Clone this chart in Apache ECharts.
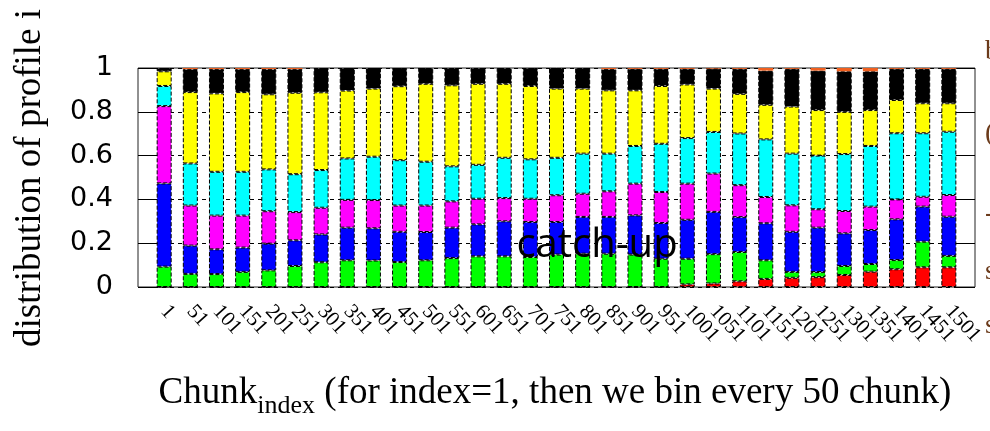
<!DOCTYPE html>
<html>
<head>
<meta charset="utf-8">
<script src="https://cdn.jsdelivr.net/npm/echarts@6/dist/echarts.min.js"></script>
<style>
  html, body { margin: 0; padding: 0; background: #fff; }
  #chart { width: 990px; height: 431px; }
</style>
</head>
<body>
<div id="chart"></div>
<script>
// ---- data (fractions of each profile per bin, stacked bottom -> top) ----
const categories = ['1','51','101','151','201','251','301','351','401','451','501','551','601','651','701','751','801','851','901','951','1001','1051','1101','1151','1201','1251','1301','1351','1401','1451','1501'];

const red     = [0,0,0,0,0,0,0,0,0,0,0,0,0,0,0,0,0,0,0,0,0.012,0.016,0.026,0.037,0.042,0.045,0.055,0.070,0.081,0.090,0.090];
const green   = [0.093,0.060,0.059,0.069,0.076,0.096,0.113,0.122,0.121,0.114,0.122,0.132,0.140,0.140,0.137,0.148,0.152,0.152,0.148,0.129,0.117,0.134,0.134,0.085,0.027,0.023,0.041,0.035,0.042,0.117,0.052];
const blue    = [0.380,0.129,0.113,0.111,0.122,0.117,0.127,0.149,0.147,0.138,0.129,0.139,0.146,0.160,0.160,0.149,0.168,0.168,0.179,0.163,0.178,0.193,0.159,0.169,0.183,0.203,0.149,0.155,0.186,0.160,0.179];
const magenta = [0.353,0.183,0.154,0.146,0.148,0.129,0.122,0.127,0.129,0.120,0.121,0.120,0.117,0.106,0.106,0.122,0.106,0.117,0.145,0.142,0.165,0.175,0.146,0.120,0.121,0.084,0.102,0.107,0.091,0.045,0.099];
const cyan    = [0.092,0.192,0.200,0.200,0.191,0.173,0.172,0.189,0.198,0.207,0.200,0.160,0.155,0.184,0.180,0.171,0.183,0.172,0.172,0.220,0.208,0.190,0.236,0.263,0.236,0.245,0.260,0.277,0.302,0.290,0.289];
const yellow  = [0.067,0.326,0.358,0.364,0.343,0.372,0.355,0.310,0.311,0.338,0.356,0.370,0.370,0.338,0.335,0.316,0.297,0.289,0.254,0.264,0.245,0.198,0.181,0.158,0.215,0.208,0.193,0.164,0.152,0.137,0.130];
const black   = [0.015,0.105,0.111,0.105,0.115,0.108,0.111,0.103,0.094,0.083,0.072,0.079,0.072,0.072,0.082,0.094,0.094,0.097,0.098,0.078,0.071,0.091,0.114,0.156,0.172,0.180,0.185,0.177,0.142,0.157,0.157];
const orange  = [0,0.005,0.005,0.005,0.005,0.005,0,0,0,0,0,0,0,0,0,0,0,0.005,0.004,0.004,0.004,0.004,0.004,0.012,0.004,0.012,0.015,0.015,0.004,0.004,0.004];

const yTicks = [0, 0.2, 0.4, 0.6, 0.8, 1];

const seriesDefs = [
  { name: 'red', data: red, color: '#ff0000' },
  { name: 'green', data: green, color: '#00ff00' },
  { name: 'blue', data: blue, color: '#0000ff' },
  { name: 'magenta', data: magenta, color: '#ff00ff' },
  { name: 'cyan', data: cyan, color: '#00ffff' },
  { name: 'yellow', data: yellow, color: '#ffff00' },
  { name: 'black', data: black, color: '#000000' },
  { name: 'orange', data: orange, color: '#f06020' }
];

// pad one empty slot on each side (axis runs from 0 to 32, bars at 1..31)
const pad = arr => ['-', ...arr, '-'];
const xData = pad(categories).map(v => v === '-' ? '' : v);

const chart = echarts.init(document.getElementById('chart'), null, { renderer: 'canvas' });

const serif = '"Liberation Serif", "Times New Roman", serif';

const option = {
  animation: false,
  backgroundColor: '#ffffff',
  grid: {
    left: 138, right: 15, top: 68, bottom: 144,
    show: true, borderColor: '#222', borderWidth: 1,
    containLabel: false,
    outerBoundsMode: 'none'
  },
  xAxis: {
    type: 'category',
    data: xData,
    boundaryGap: false,
    axisLine: { show: false },
    axisTick: { show: false },
    splitLine: { show: false },
    axisLabel: {
      interval: 0,
      rotate: -48,
      margin: 21,
      color: '#000',
      fontFamily: serif,
      fontSize: 21
    }
  },
  yAxis: [{
    type: 'value',
    min: 0, max: 1, interval: 0.2,
    axisLine: { show: false },
    axisTick: { show: true, inside: true, length: 19, lineStyle: { color: '#000', width: 1 } },
    splitLine: { show: true, lineStyle: { color: '#000', type: [4, 4], width: 1 } },
    axisLabel: {
      color: '#000',
      fontFamily: '"DejaVu Sans", Arial, sans-serif',
      fontSize: 27,
      margin: 25,
      formatter: v => yTicks.includes(+v.toFixed(1)) ? String(+v.toFixed(1)) : ''
    }
  }, {
    type: 'value',
    position: 'right',
    min: 0, max: 1, interval: 0.2,
    axisLine: { show: false },
    axisTick: { show: true, inside: true, length: 20, lineStyle: { color: '#000', width: 1 } },
    splitLine: { show: false },
    axisLabel: { show: false }
  }],
  series: seriesDefs.map(s => ({
    name: s.name,
    type: 'bar',
    stack: 'total',
    barWidth: 15,
    data: pad(s.data),
    itemStyle: {
      color: s.color,
      borderColor: '#000',
      borderWidth: s.name === 'orange' ? 0 : 1,
      borderType: 'dashed'
    }
  })),
  graphic: [
    {
      type: 'text', x: 30, y: 178, rotation: Math.PI / 2, z: 100,
      style: {
        text: 'distribution of profile i',
        font: '37px ' + serif,
        fill: '#000', textAlign: 'center', textVerticalAlign: 'middle'
      }
    },
    {
      type: 'text', x: 555, y: 397, z: 100,
      style: {
        text: '{a|Chunk}{s|index}{a| (for index=1, then we bin every 50 chunk)}',
        textAlign: 'center', textVerticalAlign: 'middle',
        fill: '#000',
        rich: {
          a: { fontFamily: serif, fontSize: 37, lineHeight: 45, verticalAlign: 'top', fill: '#000' },
          s: { fontFamily: serif, fontSize: 26, lineHeight: 26, verticalAlign: 'bottom', fill: '#000' }
        }
      }
    },
    {
      type: 'text', x: 597, y: 246, z: 100,
      style: {
        text: 'catch-up',
        font: '40px "Open Sans", sans-serif',
        fill: '#000', textAlign: 'center', textVerticalAlign: 'middle'
      }
    },
    { type: 'text', x: 985, y: 52, z: 100, style: { text: 'b', font: '28px ' + serif, fill: '#6b3a1a', textVerticalAlign: 'middle' } },
    { type: 'text', x: 985, y: 134, z: 100, style: { text: '(', font: '28px ' + serif, fill: '#6b3a1a', textVerticalAlign: 'middle' } },
    { type: 'text', x: 985, y: 214, z: 100, style: { text: '-', font: '28px ' + serif, fill: '#6b3a1a', textVerticalAlign: 'middle' } },
    { type: 'text', x: 985, y: 272, z: 100, style: { text: 's', font: '28px ' + serif, fill: '#6b3a1a', textVerticalAlign: 'middle' } },
    { type: 'text', x: 985, y: 326, z: 100, style: { text: 's', font: '28px ' + serif, fill: '#6b3a1a', textVerticalAlign: 'middle' } }
  ]
};

chart.setOption(option);
</script>
</body>
</html>
